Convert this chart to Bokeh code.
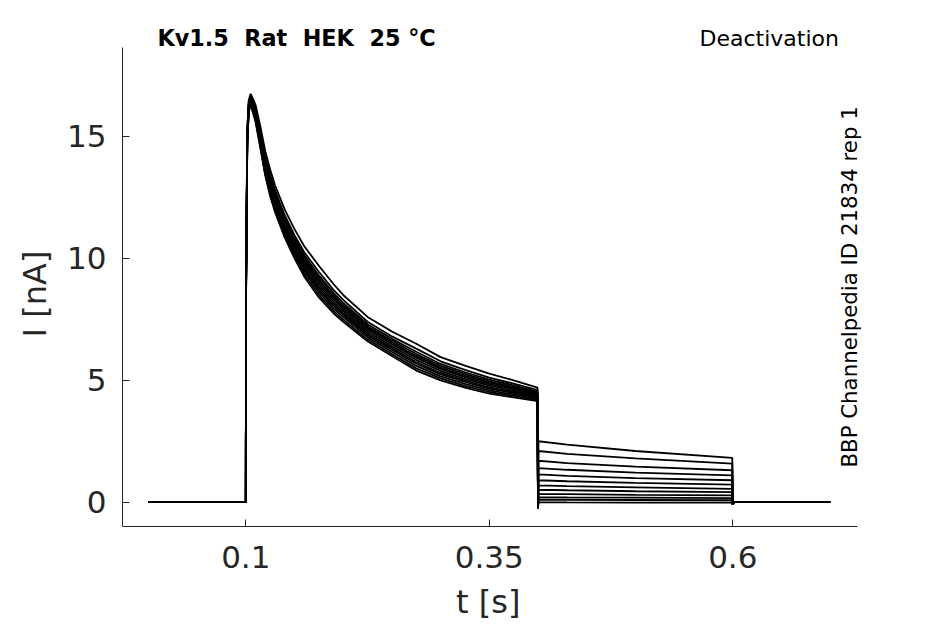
import math
from bokeh.plotting import figure
from bokeh.models import FixedTicker, Label, Range1d
from bokeh.embed import file_html
from bokeh.resources import INLINE

# ---- data ----
t_hold = [0.0]
t_on = [0.1, 0.1002, 0.1015, 0.103, 0.105, 0.11, 0.115, 0.12, 0.125, 0.13,
        0.14, 0.15, 0.16, 0.175, 0.19, 0.2, 0.225, 0.25, 0.275, 0.3, 0.325,
        0.35, 0.375, 0.3995]
t_off = [0.4, 0.4005, 0.43, 0.5, 0.5995, 0.6, 0.601, 0.7]

act = [
    [0, 9.0, 15.3, 16.5, 16.75, 16.3, 15.4, 14.4, 13.65, 13.0, 12.0, 11.2, 10.5, 9.7, 8.95, 8.5, 7.6, 7.0, 6.5, 5.95, 5.6, 5.27, 5.0, 4.7],
    [0, 8.8, 15.2, 16.4, 16.65, 16.15, 15.22, 14.2, 13.43, 12.8, 11.77, 10.95, 10.25, 9.45, 8.71, 8.3, 7.4, 6.8, 6.3, 5.78, 5.43, 5.11, 4.86, 4.6],
    [0, 8.7, 15.1, 16.35, 16.6, 16.1, 15.13, 14.07, 13.32, 12.67, 11.66, 10.84, 10.13, 9.31, 8.59, 8.17, 7.3, 6.7, 6.17, 5.67, 5.33, 5.03, 4.79, 4.54],
    [0, 8.6, 15.03, 16.31, 16.58, 16.03, 15.06, 13.98, 13.23, 12.58, 11.56, 10.74, 10.03, 9.21, 8.49, 8.08, 7.22, 6.62, 6.08, 5.59, 5.26, 4.96, 4.73, 4.49],
    [0, 8.55, 14.98, 16.27, 16.55, 15.98, 15.0, 13.9, 13.16, 12.5, 11.48, 10.66, 9.94, 9.12, 8.41, 8.0, 7.15, 6.55, 6.0, 5.52, 5.19, 4.9, 4.68, 4.45],
    [0, 8.5, 14.94, 16.24, 16.52, 15.94, 14.93, 13.83, 13.08, 12.43, 11.4, 10.58, 9.85, 9.02, 8.33, 7.93, 7.08, 6.48, 5.93, 5.46, 5.13, 4.84, 4.64, 4.41],
    [0, 8.4, 14.88, 16.2, 16.48, 15.88, 14.86, 13.74, 12.99, 12.34, 11.31, 10.48, 9.75, 8.92, 8.23, 7.84, 7.0, 6.4, 5.84, 5.38, 5.06, 4.78, 4.58, 4.37],
    [0, 8.3, 14.82, 16.16, 16.44, 15.82, 14.79, 13.65, 12.9, 12.25, 11.22, 10.38, 9.65, 8.82, 8.13, 7.75, 6.92, 6.32, 5.75, 5.3, 4.99, 4.71, 4.52, 4.33],
    [0, 8.25, 14.78, 16.12, 16.41, 15.78, 14.72, 13.58, 12.83, 12.18, 11.14, 10.3, 9.56, 8.72, 8.05, 7.68, 6.85, 6.25, 5.68, 5.24, 4.93, 4.66, 4.48, 4.29],
    [0, 8.15, 14.72, 16.08, 16.38, 15.72, 14.65, 13.49, 12.74, 12.09, 11.05, 10.2, 9.46, 8.62, 7.95, 7.59, 6.77, 6.17, 5.59, 5.16, 4.85, 4.59, 4.42, 4.24],
    [0, 8.1, 14.65, 16.04, 16.34, 15.66, 14.57, 13.42, 12.64, 11.99, 10.94, 10.1, 9.35, 8.5, 7.85, 7.49, 6.68, 6.08, 5.49, 5.08, 4.77, 4.52, 4.36, 4.19],
    [0, 8.0, 14.6, 16.0, 16.3, 15.6, 14.5, 13.4, 12.55, 11.9, 10.85, 10.0, 9.25, 8.4, 7.75, 7.4, 6.6, 6.0, 5.4, 5.0, 4.7, 4.45, 4.3, 4.15],
]

deact = [
    [-0.25, 1.14, 1.08, 0.99, 0.9, -0.1, 0.0, 0.0],
    [-0.25, 2.5, 2.36, 2.1, 1.82, -0.1, 0.0, 0.0],
    [-0.25, 0.51, 0.49, 0.45, 0.41, -0.1, 0.0, 0.0],
    [-0.25, 1.7, 1.6, 1.46, 1.31, -0.1, 0.0, 0.0],
    [-0.25, 0.1, 0.1, 0.09, 0.08, -0.1, 0.0, 0.0],
    [-0.25, 2.1, 1.98, 1.8, 1.58, -0.1, 0.0, 0.0],
    [-0.25, 0.9, 0.86, 0.79, 0.72, -0.1, 0.0, 0.0],
    [-0.25, 0.34, 0.33, 0.3, 0.28, -0.1, 0.0, 0.0],
    [-0.25, 1.4, 1.33, 1.21, 1.1, -0.1, 0.0, 0.0],
    [-0.25, 0.0, -0.01, -0.02, -0.02, -0.1, 0.0, 0.0],
    [-0.25, 0.69, 0.66, 0.61, 0.55, -0.1, 0.0, 0.0],
    [-0.25, 0.21, 0.2, 0.19, 0.17, -0.1, 0.0, 0.0],
]

x_ticks = [0.1, 0.35, 0.6]
y_ticks = [0, 5, 10, 15]
x_label = "t [s]"
y_label = "I [nA]"
title_left = "Kv1.5\u00a0\u00a0Rat\u00a0\u00a0HEK\u00a0\u00a025\u00a0°C"
title_right = "Deactivation"
side_text = "BBP Channelpedia ID 21834 rep 1"

# ---- layout constants (axes box) ----
X0, X1 = -0.0266, 0.8184     # frame extends to the right edge of the canvas
Y0, Y1 = -0.9967, 20.578     # frame extends to the top edge of the canvas
AX_X_END = 0.7277            # visible end of the bottom axis line
AX_Y_END = 18.66             # visible end of the left axis line
NBSP = "\u00a0"              # trailing padding re-centres the axis labels
                             # on the visible axis lines

FONT = "DejaVu Sans"
TXT = "#262626"

p = figure(width=945, height=624, output_backend="svg", toolbar_location=None,
           x_range=Range1d(X0, X1), y_range=Range1d(Y0, Y1),
           min_border_left=122, min_border_right=0, min_border_top=0,
           min_border_bottom=98)
p.outline_line_color = None
p.grid.visible = False
p.background_fill_color = "white"
p.border_fill_color = "white"

xs = [t_hold + t_on + t_off for _ in act]
ys = [[0.0] + a + d for a, d in zip(act, deact)]
p.multi_line(xs, ys, line_color="black", line_width=1.8)

for ax in (p.xaxis[0], p.yaxis[0]):
    ax.axis_line_color = TXT
    ax.axis_line_width = 1
    ax.major_tick_line_color = TXT
    ax.major_tick_in = 7
    ax.major_tick_out = 0
    ax.minor_tick_line_color = None
    ax.major_label_text_font = FONT
    ax.major_label_text_font_size = "31px"
    ax.major_label_text_color = TXT
    ax.axis_label_text_font = FONT
    ax.axis_label_text_font_size = "32px"
    ax.axis_label_text_color = TXT
    ax.axis_label_text_font_style = "normal"

p.xaxis[0].bounds = (X0, AX_X_END)
p.yaxis[0].bounds = (Y0, AX_Y_END)
p.xaxis[0].ticker = FixedTicker(ticks=x_ticks)
p.yaxis[0].ticker = FixedTicker(ticks=y_ticks)
p.xaxis[0].axis_label = x_label + NBSP * 9
p.yaxis[0].axis_label = y_label + NBSP * 6
p.xaxis[0].major_label_standoff = 19
p.yaxis[0].major_label_standoff = 16
p.xaxis[0].axis_label_standoff = 12
p.yaxis[0].axis_label_standoff = 10

p.add_layout(Label(x=0.0093, y=19.02, text=title_left, text_font=FONT,
                   text_font_size="22.3px", text_font_style="bold",
                   text_color="black", text_align="left",
                   text_baseline="alphabetic"))
p.add_layout(Label(x=0.709, y=19.02, text=title_right, text_font=FONT,
                   text_font_size="22px", text_color="black",
                   text_align="right", text_baseline="alphabetic"))
p.add_layout(Label(x=0.7203, y=8.83, text=side_text, text_font=FONT,
                   text_font_size="21.3px", text_color="black",
                   text_align="center", text_baseline="alphabetic",
                   angle=math.pi / 2))

open("out.html", "w").write(file_html(p, INLINE))
